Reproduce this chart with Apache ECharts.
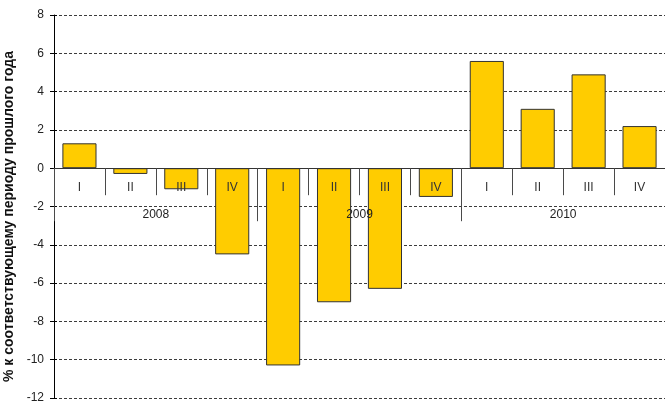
<!DOCTYPE html>
<html>
<head>
<meta charset="utf-8">
<script src="https://cdn.jsdelivr.net/npm/echarts@6/dist/echarts.min.js"></script>
<style>
  html, body { margin: 0; padding: 0; background: #fff; }
  #chart { width: 665px; height: 405px; }
</style>
</head>
<body>
<div id="chart"></div>
<script>
// Quarterly change, % to the same period of the previous year
const quarters = ['I', 'II', 'III', 'IV', 'I', 'II', 'III', 'IV', 'I', 'II', 'III', 'IV'];
const years = ['2008', '2009', '2010'];
const values = [1.3, -0.3, -1.1, -4.5, -10.3, -7.0, -6.3, -1.5, 5.6, 3.1, 4.9, 2.2];
const yTicks = { min: -12, max: 8, interval: 2 };
const yTitle = '% к соответствующему периоду прошлого года';

const W = 665, H = 405;
const grid = { left: 54, right: 0, top: 15, bottom: 7 };
const plotH = H - grid.top - grid.bottom;
// distance from the bottom edge of the plot up to the zero line
const zeroLift = plotH * (0 - yTicks.min) / (yTicks.max - yTicks.min);

const chart = echarts.init(document.getElementById('chart'), null, { renderer: 'canvas' });
const font = 'Liberation Sans, Arial, sans-serif';

const yScale = { type: 'value', min: yTicks.min, max: yTicks.max, interval: yTicks.interval };

chart.setOption({
  animation: false,
  backgroundColor: '#ffffff',
  grid: Object.assign({ containLabel: false, outerBoundsMode: 'none' }, grid),
  xAxis: [
    {
      type: 'category',
      data: quarters,
      position: 'bottom',
      offset: -zeroLift,
      z: 10,
      axisLine: { onZero: false, lineStyle: { color: '#333333', width: 1 } },
      axisTick: { show: true, length: 27, interval: 0, lineStyle: { color: '#4a4a4a', width: 1 } },
      axisLabel: { margin: 13, color: '#333333', fontSize: 12, fontFamily: font, interval: 0 },
      splitLine: { show: false }
    },
    {
      type: 'category',
      data: years,
      position: 'bottom',
      offset: -zeroLift,
      z: 10,
      axisLine: { show: false, onZero: false },
      axisTick: { show: true, length: 53, interval: 0, lineStyle: { color: '#4a4a4a', width: 1 } },
      axisLabel: { margin: 40, color: '#222222', fontSize: 12, fontFamily: font, interval: 0 },
      splitLine: { show: false }
    }
  ],
  yAxis: [
    Object.assign({}, yScale, {
      position: 'left',
      name: yTitle,
      nameLocation: 'middle',
      nameGap: 31,
      nameTextStyle: {
        fontFamily: font, fontSize: 14, fontWeight: 'bold', color: '#111111',
        padding: [0, 20, 0, 0]
      },
      axisLine: { show: true, lineStyle: { color: '#000000', width: 1 } },
      axisTick: { show: true, length: 4, lineStyle: { color: '#000000' } },
      axisLabel: { margin: 10, color: '#222222', fontSize: 12, fontFamily: font },
      splitLine: { show: true, lineStyle: { color: '#3c3c3c', type: [3, 2], width: 1 } }
    }),
    // inner half of the cross ticks on the value axis
    Object.assign({}, yScale, {
      position: 'left',
      axisLine: { show: false },
      axisTick: { show: true, inside: true, length: 3, lineStyle: { color: '#000000' } },
      axisLabel: { show: false },
      splitLine: { show: false }
    })
  ],
  series: [
    {
      type: 'bar',
      xAxisIndex: 0,
      yAxisIndex: 0,
      data: values,
      barWidth: '67%',
      itemStyle: { color: '#FFCC00', borderColor: '#333333', borderWidth: 1 },
      z: 2
    }
  ]
});
</script>
</body>
</html>
